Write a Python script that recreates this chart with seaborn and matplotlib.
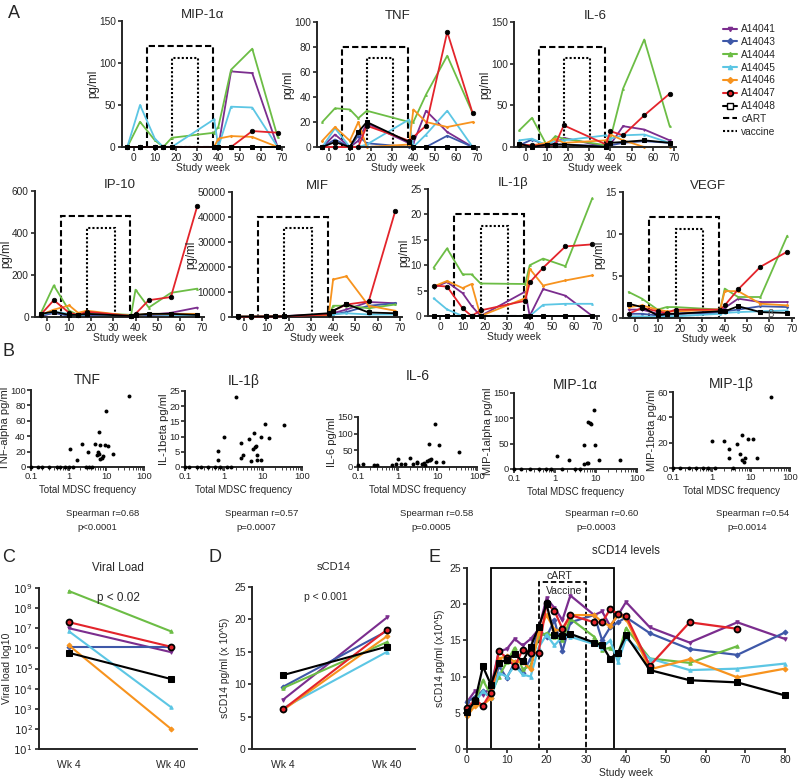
import numpy as np
import matplotlib
matplotlib.use("Agg")
import matplotlib.pyplot as plt
from matplotlib.patches import Rectangle
from matplotlib.lines import Line2D
import seaborn as sns

sns.set_style("ticks")
plt.rcParams['font.family'] = ['Liberation Sans', 'DejaVu Sans']
plt.rcParams.update({
    'axes.linewidth': 1.4,
    'xtick.major.width': 1.2, 'ytick.major.width': 1.2,
    'xtick.major.size': 3, 'ytick.major.size': 3,
    'xtick.minor.size': 2, 'ytick.minor.size': 2,
    'xtick.labelsize': 7.5, 'ytick.labelsize': 7.5,
    'axes.labelsize': 7.5, 'axes.titlesize': 9.5,
    'xtick.major.pad': 1.5, 'ytick.major.pad': 1.5,
})

# ---- data ----
animals = ['A14041', 'A14043', 'A14044', 'A14045', 'A14046', 'A14047', 'A14048']
colors = ['#7B2D8E', '#3E58A8', '#6CBD45', '#5CC6E4', '#F7931E', '#E3242B', '#000000']

# panel A: study weeks and cytokine levels (pg/ml), one row per animal
weeks_a = [-3, 3, 10, 14, 18, 38, 40, 46, 56, 68]

mip1a = [
    [0, 0, 0, 0, 0, 0, 0, 90, 88, 0],
    [0, 0, 0, 0, 0, 0, 0, 0, 0, 0],
    [0, 30, 8, 0, 11, 17, 24, 92, 117, 12],
    [0, 50, 10, 0, 0, 33, 0, 48, 47, 0],
    [0, 0, 0, 0, 0, 0, 10, 13, 12, 0],
    [0, 0, 0, 0, 0, 0, 0, 0, 19, 17],
    [0, 0, 0, 0, 0, 0, 0, 0, 0, 0],
]
tnf = [
    [0, 10, 0, 5, 19, 3, 3, 29, 12, 0],
    [0, 6, 0, 9, 3, 0, 0, 0, 9, 0],
    [20, 31, 30, 23, 29, 20, 20, 42, 73, 27],
    [0, 15, 0, 0, 2, 22, 0, 10, 29, 0],
    [5, 16, 5, 20, 0, 2, 30, 20, 16, 20],
    [0, 0, 0, 0, 17, 5, 8, 17, 92, 27],
    [0, 4, 0, 12, 20, 4, 0, 0, 0, 0],
]
il6 = [
    [3, 0, 0, 5, 11, 0, 3, 25, 21, 8],
    [2, 9, 2, 3, 3, 1, 2, 5, 7, 5],
    [20, 35, 2, 13, 10, 2, 10, 70, 129, 25],
    [8, 10, 2, 8, 8, 14, 10, 14, 15, 5],
    [1, 2, 5, 10, 5, 8, 15, 8, 0, 0],
    [3, 2, 2, 3, 26, 3, 19, 14, 38, 64],
    [4, 0, 3, 3, 3, 0, 5, 6, 8, 5],
]
ip10 = [
    [5, 20, 10, 5, 10, 5, 5, 10, 20, 45],
    [5, 20, 5, 5, 5, 3, 5, 10, 10, 10],
    [15, 150, 30, 10, 20, 10, 130, 45, 115, 135],
    [10, 25, 15, 5, 15, 5, 10, 15, 10, 10],
    [10, 35, 55, 20, 30, 5, 10, 15, 15, 15],
    [10, 80, 20, 10, 25, 5, 15, 80, 95, 530],
    [15, 25, 10, 10, 15, 5, 10, 15, 15, 10],
]
mif = [
    [100, 100, 200, 300, 400, 1000, 1500, 3000, 6000, 5500],
    [50, 50, 100, 100, 200, 200, 1000, 2000, 4500, 5500],
    [100, 100, 100, 200, 200, 500, 4500, 4500, 3500, 5000],
    [50, 50, 100, 100, 100, 300, 1000, 1500, 1000, 1000],
    [100, 100, 200, 200, 300, 500, 15000, 16300, 4500, 2500],
    [100, 100, 200, 200, 300, 1000, 2500, 5000, 6200, 42500],
    [200, 200, 200, 300, 300, 1500, 2500, 5200, 1800, 1500],
]
il1b = [
    [5.6, 6.7, 4.5, 2.0, 0, 4.8, 0, 5.3, 4.0, 0],
    [0, 0, 0, 0, 0, 0, 0, 0, 0, 0],
    [9.5, 13.3, 8.2, 8.2, 6.4, 6.3, 10.0, 11.3, 9.8, 23.2],
    [3.5, 1.3, 0, 0, 0, 0, 0, 2.2, 2.4, 2.4],
    [5.8, 6.9, 5.5, 6.3, 0, 3.5, 9.3, 6.0, 7.0, 8.0],
    [6.0, 5.8, 1.5, 0, 1.1, 3.0, 6.6, 9.5, 13.7, 14.1],
    [0, 0, 0, 0, 0, 0, 0, 0, 0, 0],
]
vegf = [
    [1.0, 1.0, 0.5, 0.5, 0.5, 0.8, 1.2, 2.3, 1.9, 1.9],
    [0.5, 0.5, 0.3, 0.3, 0.5, 0.6, 0.8, 1.0, 1.4, 1.3],
    [3.1, 2.3, 1.0, 1.3, 1.3, 1.0, 3.5, 2.5, 2.5, 9.8],
    [0.2, 0.2, 0.1, 0.2, 0.2, 0.5, 0.6, 0.7, 0.8, 0.9],
    [1.3, 1.5, 1.0, 0.8, 0.8, 1.0, 3.2, 3.2, 1.7, 1.5],
    [0.5, 1.2, 0.8, 0.6, 1.0, 1.0, 1.5, 3.4, 6.1, 7.9],
    [1.7, 1.3, 0.3, 0.5, 0.5, 0.8, 0.8, 1.4, 0.7, 0.6],
]

# panel B: MDSC frequency vs cytokine
tnf_mdsc = [40, 10, 6.5, 1.1, 2.3, 1.7, 3.2, 5, 6, 6.5, 7, 7.5, 8, 9.5, 11, 15, 6.8, 5.5,
            0.1, 0.15, 0.2, 0.3, 0.5, 0.6, 0.8, 1.0, 1.3, 2.8, 3.5, 4.2]
tnf_val = [92, 73, 45, 23, 30, 9, 20, 30, 20, 17, 29, 12, 14, 29, 27, 17, 10, 16,
           0, 0, 0, 0, 0, 0, 0, 0, 0, 0, 0, 0]
il1b_mdsc = [2, 11, 35, 0.7, 0.7, 1, 2.8, 3, 2.8, 4.5, 5, 5.5, 6, 6.2, 6.5, 7, 7, 9, 9, 14,
             0.1, 0.13, 0.2, 0.25, 0.4, 0.6, 0.8, 1.2, 1.5]
il1b_val = [23, 14, 13.7, 5.3, 2.2, 10, 8, 4, 2.8, 9.3, 2, 6, 11.2, 6.7, 7, 2.3, 4, 10, 2.2, 9.5,
            0, 0, 0, 0, 0, 0, 0, 0, 0]
il6_mdsc = [8.5, 6, 11, 35, 1, 2, 3, 3, 5.5, 6, 6.5, 7, 9, 14, 4, 4.5, 5, 1.2, 1.5, 2.5,
            0.1, 0.13, 0.25, 0.3, 0.7, 0.9]
il6_val = [130, 70, 65, 45, 25, 28, 15, 12, 17, 22, 20, 23, 15, 15, 10, 12, 5, 8, 8, 8,
           5, 8, 7, 7, 6, 8]
mip1a_mdsc = [9, 6.5, 7, 7.5, 9.5, 5, 1.1, 2.2, 5, 6, 6.5, 12, 38,
              0.1, 0.15, 0.25, 0.4, 0.6, 0.8, 1.5, 3, 4]
mip1a_val = [117, 92, 90, 88, 48, 48, 25, 18, 10, 12, 11, 18, 18,
             0, 0, 0, 0, 0, 0, 0, 0, 0]
mip1b_mdsc = [33, 6, 8.5, 11, 1, 2, 2.8, 4.5, 5.3, 6, 7, 2.7, 6.5, 14,
              0.1, 0.15, 0.25, 0.4, 0.6, 0.8, 1.2, 3.5]
mip1b_val = [56, 26, 23, 23, 21, 21, 15, 19, 11, 6, 8, 8, 5, 8,
             0, 0, 0, 0, 0, 0, 0, 0]

# panel C / D: week 4 vs week 40
vl_wk4 = [1e7, 1.2e6, 7e8, 7e6, 1.4e6, 2e7, 6e5]
vl_wk40 = [6.5e5, 1.2e6, 7e6, 1.2e3, 1e2, 1.2e6, 3e4]
scd14_wk4 = [7.6, 9.6, 9.4, 6.3, 6.0, 6.1, 11.4]
scd14_wk40 = [20.3, 18.2, 16.5, 15.0, 17.4, 18.4, 15.8]

# panel E: sCD14 time course
weeks_e = [0, 2, 4, 6, 8, 10, 12, 14, 16, 18, 20, 22, 24, 26, 32, 34, 36, 38, 40, 46, 56, 68, 80]
nan = np.nan
scd14_course = [
    [6.5, 8.0, 7.5, 8.5, 13.5, 13.8, 15.2, 14.3, 15.2, 16.5, 20.8, 19.5, 17.8, 21.2, 18.5, 19.0, 17.0, 18.5, 20.3, 16.8, 14.7, 17.5, 15.2],
    [6.5, 7.2, 8.0, 7.0, 11.5, 9.8, 12.0, 10.5, 12.5, 16.5, 15.5, 17.8, 13.5, 17.5, 18.5, 15.0, 16.8, 17.5, 18.2, 16.0, 13.8, 13.0, 16.1],
    [5.2, 6.5, 9.5, 7.5, 10.0, 12.0, 14.0, 11.0, 11.5, 15.5, 16.0, 15.5, 15.0, 18.0, 15.5, 13.7, 14.0, 13.0, 16.7, 12.5, 11.9, 14.2, nan],
    [5.0, 6.4, 8.0, 7.0, 10.5, 10.0, 11.5, 10.3, 10.0, 14.0, 15.8, 14.3, 15.5, 15.5, 14.5, 14.0, 15.0, 12.0, 15.3, 12.5, 10.9, 11.1, 11.8],
    [4.5, 6.0, 6.1, 7.0, 12.5, 12.8, 12.0, 12.0, 11.0, 16.0, 18.5, 16.5, 16.3, 18.5, 18.5, 17.5, 17.0, 18.5, 18.0, 11.0, 12.4, 9.9, 11.1],
    [5.6, 6.8, 6.0, 7.8, 13.5, 12.6, 11.4, 13.7, 13.3, 13.3, 20.1, 19.1, 16.6, 18.5, 17.5, 17.5, 19.3, 18.7, 18.4, 11.5, 17.5, 16.6, nan],
    [5.15, 6.6, 11.4, 8.9, 11.9, 12.3, 13.1, 12.1, 14.1, 16.8, 20.0, 15.7, 15.6, 15.9, 14.7, 14.3, 12.5, 13.3, 15.7, 10.9, 9.5, 9.2, 7.4],
]

# ---- layout helpers ----
W, H = 800, 783
fig = plt.figure(figsize=(W / 100, H / 100), dpi=100)


def add_ax(l, t, r, b):
    return fig.add_axes([l / W, 1 - b / H, (r - l) / W, (b - t) / H])


small_markers = ['v', 'D', '^', '^', 'D', 'o', 's']


def marker_kw(i, big=False):
    if i == 5:
        return dict(marker='o', markersize=4.3 if big else 3.3, markerfacecolor=colors[5] if big else 'k',
                    markeredgecolor='k', markeredgewidth=1.3 if big else 0.5)
    if i == 6:
        return dict(marker='s', markersize=4.5 if big else 3.0, markerfacecolor='k', markeredgecolor='k')
    return dict(marker=small_markers[i], markersize=2.5 if big else 1.2, markerfacecolor=colors[i],
                markeredgecolor=colors[i])


# ---- panel A ----
panel_a = [
    ('MIP-1\u03b1', mip1a, 150, 50, (122, 21, 284, 147)),
    ('TNF', tnf, 100, 20, (317, 22, 479, 147)),
    ('IL-6', il6, 150, 50, (514, 22, 676, 147)),
    ('IP-10', ip10, 600, 200, (35, 191, 204, 317)),
    ('MIF', mif, 50000, 10000, (232, 192, 402, 317)),
    ('IL-1\u03b2', il1b, 25, 5, (428, 189, 599, 316)),
    ('VEGF', vegf, 15, 5, (623, 192, 794, 318)),
]
for title, values, ymax, step, box in panel_a:
    ax = add_ax(*box)
    for i, series in enumerate(values):
        sns.lineplot(x=weeks_a, y=series, ax=ax, color=colors[i], linewidth=1.3,
                     clip_on=False, zorder=3 if i >= 5 else 2, **marker_kw(i))
    ax.add_patch(Rectangle((6.3, 0), 31.2, 0.8 * ymax, fill=False, ec='k', lw=1.5,
                           ls=(0, (3, 1.5)), zorder=1))
    ax.add_patch(Rectangle((18, 0), 12.5, 0.71 * ymax, fill=False, ec='k', lw=1.5,
                           ls=(0, (1, 1)), zorder=1))
    ax.set_xlim(-5.5, 71)
    ax.set_ylim(0, ymax)
    ax.set_xticks(range(0, 71, 10))
    ax.set_yticks(np.arange(0, ymax + 1, step))
    ax.tick_params(labelsize=7.3)
    ax.set_title(title, pad=2)
    ax.set_xlabel('Study week', labelpad=0)
    ax.set_ylabel('pg/ml', labelpad=0, fontsize=8.3)
    sns.despine(ax=ax)
    if title == 'VEGF':
        ax.text(59, 0.1, '\u03b2', fontsize=8, color='#555555')

handles = []
for i, name in enumerate(animals):
    kw = marker_kw(i, big=True)
    if i == 5:
        kw.update(markerfacecolor=colors[5], markersize=4)
    if i == 6:
        kw.update(markerfacecolor='white', markersize=4)
    if i < 5:
        kw.update(markersize=3)
    handles.append(Line2D([], [], color=colors[i], lw=1.5, **kw))
handles.append(Line2D([], [], color='k', lw=1.5, ls=(0, (3, 1.5))))
handles.append(Line2D([], [], color='k', lw=1.5, ls=(0, (1, 1))))
fig.legend(handles, animals + ['cART', 'vaccine'], loc='upper left',
           bbox_to_anchor=(718 / W, 1 - 19 / H), frameon=False, fontsize=7.3,
           handlelength=1.4, handletextpad=0.4, labelspacing=0.28, borderpad=0)

# ---- panel B ----
panel_b = [
    ('TNF', 'TNF-alpha pg/ml', tnf_mdsc, tnf_val, 100, 20, (31, 390, 144, 467),
     'Spearman r=0.68', 'p<0.0001', 103, 4),
    ('IL-1\u03b2', 'IL-1beta pg/ml', il1b_mdsc, il1b_val, 25, 5, (185, 391, 302, 467),
     'Spearman r=0.57', 'p=0.0007', 262, 4),
    ('IL-6', 'IL-6 pg/ml', il6_mdsc, il6_val, 150, 50, (358, 417, 477, 467),
     'Spearman r=0.58', 'p=0.0005', 437, 27),
    ('MIP-1\u03b1', 'MIP-1alpha pg/ml', mip1a_mdsc, mip1a_val, 150, 50, (514, 393, 637, 469),
     'Spearman r=0.60', 'p=0.0003', 602, 3),
    ('MIP-1\u03b2', 'MIP-1beta pg/ml', mip1b_mdsc, mip1b_val, 60, 20, (673, 392, 790, 468),
     'Spearman r=0.54', 'p=0.0014', 753, 3),
]
for title, ylab, xs, ys, ymax, step, box, r_txt, p_txt, tx, tpad in panel_b:
    ax = add_ax(*box)
    sns.scatterplot(x=xs, y=ys, ax=ax, color='k', s=8, linewidth=0, clip_on=False, zorder=3)
    ax.set_xscale('log')
    ax.set_xlim(0.1, 100)
    ax.set_ylim(0, ymax)
    ax.set_yticks(np.arange(0, ymax + 1, step))
    ax.set_xticks([0.1, 1, 10, 100])
    ax.set_xticklabels(['0.1', '1', '10', '100'])
    ax.tick_params(labelsize=6.8, pad=0.8)
    ax.set_title(title, pad=tpad, fontsize=10)
    ax.set_xlabel('Total MDSC frequency', fontsize=7, labelpad=3)
    ax.set_ylabel(ylab, fontsize=8, labelpad=0)
    sns.despine(ax=ax)
    fig.text(tx / W, 1 - 514 / H, r_txt, ha='center', va='center', fontsize=6.8)
    fig.text((tx - 6) / W, 1 - 527 / H, p_txt, ha='center', va='center', fontsize=6.8)

# ---- panel C ----
ax = add_ax(39, 588, 197, 749)
for i in range(len(animals)):
    sns.lineplot(x=[0, 1], y=[vl_wk4[i], vl_wk40[i]], ax=ax, color=colors[i], linewidth=1.5,
                 clip_on=False, **marker_kw(i, big=True))
ax.set_yscale('log')
ax.set_ylim(10, 1e9)
ax.set_yticks([10.0 ** k for k in range(1, 10)])
ax.set_yticklabels([f'$10^{{{k}}}$' for k in range(1, 10)])
ax.set_xlim(-0.294, 1.255)
ax.set_xticks([0, 1])
ax.set_xticklabels(['Wk 4', 'Wk 40'])
ax.tick_params(axis='x', length=0, pad=8)
ax.set_ylabel('Viral load log10', fontsize=7.5, labelpad=1)
ax.set_title('Viral Load', fontsize=8.3, pad=12)
ax.text(0.5, 0.94, 'p < 0.02', transform=ax.transAxes, ha='center', va='center', fontsize=8.5)
sns.despine(ax=ax)

# ---- panel D ----
ax = add_ax(252, 587, 415, 749)
for i in range(len(animals)):
    sns.lineplot(x=[0, 1], y=[scd14_wk4[i], scd14_wk40[i]], ax=ax, color=colors[i], linewidth=1.5,
                 clip_on=False, **marker_kw(i, big=True))
ax.set_ylim(0, 25)
ax.set_yticks(range(0, 26, 5))
ax.set_xlim(-0.298, 1.269)
ax.set_xticks([0, 1])
ax.set_xticklabels(['Wk 4', 'Wk 40'])
ax.tick_params(axis='x', length=0, pad=8)
ax.set_ylabel('sCD14 pg/ml (x 10^5)', fontsize=7.5, labelpad=3)
ax.set_title('sCD14', fontsize=8, pad=12)
ax.text(0.45, 0.94, 'p < 0.001', transform=ax.transAxes, ha='center', va='center', fontsize=7.5)
sns.despine(ax=ax)

# ---- panel E ----
ax = add_ax(467, 568, 785, 749)
for i, series in enumerate(scd14_course):
    sns.lineplot(x=weeks_e, y=series, ax=ax, color=colors[i], linewidth=1.6,
                 clip_on=False, zorder=3 if i >= 5 else 2, **marker_kw(i, big=True))
ax.add_patch(Rectangle((6, 0), 31, 25, fill=False, ec='k', lw=1.3, zorder=1, clip_on=False))
ax.add_patch(Rectangle((18, 0), 12, 23, fill=False, ec='k', lw=1.3, ls=(0, (3, 1.5)), zorder=1))
ax.text(23.3, 23.9, 'cART', ha='center', va='center', fontsize=7.5)
ax.text(24.5, 21.8, 'Vaccine', ha='center', va='center', fontsize=7.5)
ax.set_xlim(0, 80)
ax.set_ylim(0, 25)
ax.set_xticks(range(0, 81, 10))
ax.set_yticks(range(0, 26, 5))
ax.set_xlabel('Study week', fontsize=7.5, labelpad=2)
ax.set_ylabel('sCD14 pg/ml (x10^5)', fontsize=7.5, labelpad=3)
ax.set_title('sCD14 levels', fontsize=8.3, pad=10)
sns.despine(ax=ax)

# ---- panel letters ----
for letter, x, y in [('A', 8, 14), ('B', 2, 351), ('C', 2, 557), ('D', 208, 557), ('E', 428, 557)]:
    fig.text(x / W, 1 - y / H, letter, fontsize=13, ha='left', va='center')

fig.savefig('out.png', dpi=100)
